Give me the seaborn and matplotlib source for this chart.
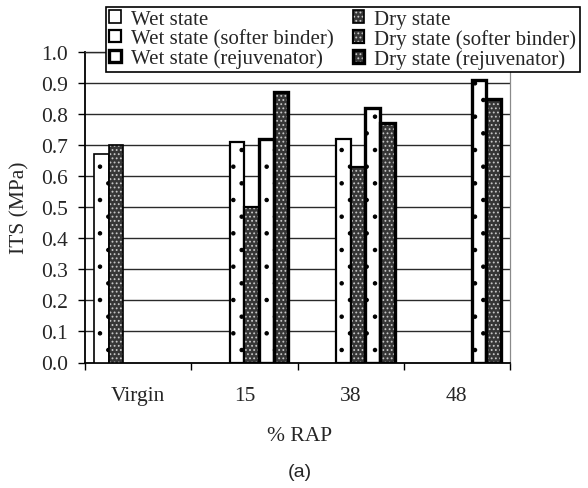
import numpy as np
import pandas as pd
import matplotlib
matplotlib.use("Agg")
import matplotlib.pyplot as plt
import matplotlib.colors as mcolors
from matplotlib.patches import Patch
from matplotlib.ticker import FixedLocator, NullFormatter
import seaborn as sns

# ---- data ----
categories = ["Virgin", "15", "38", "48"]
states = ["Wet state", "Dry state",
          "Wet state (softer binder)", "Dry state (softer binder)",
          "Wet state (rejuvenator)", "Dry state (rejuvenator)"]
wet = [0.67, np.nan, np.nan, np.nan]
dry = [0.70, np.nan, np.nan, np.nan]
wet_softer = [np.nan, 0.71, 0.72, np.nan]
dry_softer = [np.nan, 0.50, 0.63, np.nan]
wet_rejuv = [np.nan, 0.72, 0.82, 0.91]
dry_rejuv = [np.nan, 0.87, 0.77, 0.85]
y_ticks = [0.0, 0.1, 0.2, 0.3, 0.4, 0.5, 0.6, 0.7, 0.8, 0.9, 1.0]

series = [wet, dry, wet_softer, dry_softer, wet_rejuv, dry_rejuv]
rows = []
for st, vals in zip(states, series):
    for c, v in zip(categories, vals):
        if not np.isnan(v):
            rows.append({"RAP": c, "ITS": v, "State": st})
df = pd.DataFrame(rows)

# styles
is_dry = [False, True, False, True, False, True]
edge_lw = [1.2, 1.2, 1.6, 1.6, 2.4, 2.4]
wet_face = "#ffffff"
dry_face = "#363636"
dot_light = "#c8c8c8"
FS = 15.5

sns.set_style("white")
plt.rcParams["font.family"] = ["Liberation Serif", "DejaVu Serif"]
plt.rcParams["hatch.linewidth"] = 0.8

fig = plt.figure(figsize=(5.88, 4.89), dpi=100)
ax = fig.add_axes([85 / 588, 1 - 363.5 / 489, 425 / 588, 310.5 / 489])

width = 0.83
palette = {s: (dry_face if d else wet_face) for s, d in zip(states, is_dry)}
sns.barplot(data=df, x="RAP", y="ITS", hue="State", order=categories,
            hue_order=states, palette=palette, width=width, dodge=True,
            edgecolor="black", linewidth=1.2, saturation=1, legend=False,
            errorbar=None, ax=ax, zorder=3)

nh = len(states)
step = width / nh
for p in ax.patches:
    xc = p.get_x() + p.get_width() / 2
    off = xc - round(xc)
    slot = int(round((off + width / 2) / step - 0.5))
    slot = max(0, min(nh - 1, slot))
    p.set_linewidth(edge_lw[slot])
    p.set_edgecolor("black")
    if is_dry[slot]:
        p.set_facecolor(dry_face)
        p.set_hatch("....")
        p._hatch_color = mcolors.to_rgba(dot_light)
    else:
        p.set_facecolor(wet_face)
        p.set_hatch(".")
        p._hatch_color = mcolors.to_rgba("black")
    p.set_zorder(3)

ax.set_ylim(0, 1.0)
ax.set_xlim(-0.5, len(categories) - 0.5)
ax.set_yticks(y_ticks)
ax.set_yticklabels([f"{t:.1f}" for t in y_ticks])
for t in y_ticks[1:]:
    ax.axhline(t, color="#2a2a2a", lw=1.0, zorder=1)

# category boundary ticks (major) and centred labels (minor)
ax.xaxis.set_major_locator(FixedLocator(np.arange(-0.5, len(categories), 1.0)))
ax.xaxis.set_major_formatter(NullFormatter())
ax.xaxis.set_minor_locator(FixedLocator(np.arange(len(categories))))
ax.set_xticklabels(categories, minor=True)
ax.tick_params(axis="x", which="major", direction="out", length=5, width=1.0,
               color="black", bottom=True)
ax.tick_params(axis="x", which="minor", length=0, pad=17, labelsize=FS)
ax.tick_params(axis="y", direction="out", length=5, width=1.0, color="black",
               left=True, pad=7, labelsize=FS)
ax.set_xlabel("")
ax.set_ylabel("")

for side in ["left", "bottom"]:
    ax.spines[side].set_color("black")
    ax.spines[side].set_linewidth(1.3)
ax.spines["right"].set_color("#8a8a8a")
ax.spines["right"].set_linewidth(0.9)
ax.spines["top"].set_color("#2a2a2a")
ax.spines["top"].set_linewidth(1.0)
ax.grid(False)

fig.text(20 / 588, 1 - 208 / 489, "ITS (MPa)", rotation=90, ha="center",
         va="center", fontsize=FS)
fig.text(300 / 588, 1 - 437 / 489, "% RAP", ha="center", va="center",
         fontsize=FS)
fig.text(300 / 588, 1 - 473 / 489, "(a)", ha="center", va="center",
         fontsize=14, family=["Liberation Sans", "DejaVu Sans"])

def make_handle(i):
    if is_dry[i]:
        h = Patch(facecolor=dry_face, edgecolor="black", hatch="....", lw=edge_lw[i])
        h._hatch_color = mcolors.to_rgba(dot_light)
    else:
        h = Patch(facecolor=wet_face, edgecolor="black", hatch="", lw=edge_lw[i])
    return h

# legend is filled column by column: wet states left, dry states right
leg_order = [0, 2, 4, 1, 3, 5]
handles = [make_handle(i) for i in leg_order]
labels = [states[i] for i in leg_order]
leg = fig.legend(handles, labels, ncol=2, loc="upper left",
                 bbox_to_anchor=(106 / 588, 1 - 8 / 489),
                 frameon=True, fancybox=False, shadow=False, framealpha=1,
                 edgecolor="black", fontsize=15, labelspacing=0.0,
                 handlelength=0.55, handleheight=0.55, handletextpad=0.5,
                 columnspacing=0.9, borderpad=0.15, borderaxespad=0)
leg.get_frame().set_linewidth(1.2)

fig.savefig("out.png", dpi=100)
